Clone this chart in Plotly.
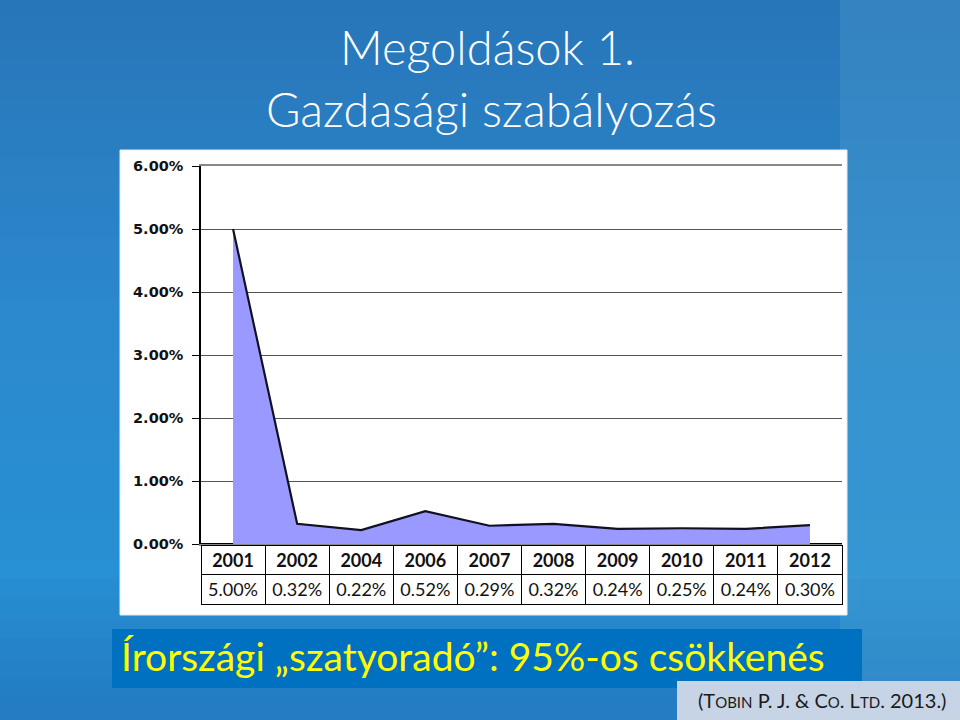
import plotly.graph_objects as go

years = ["2001", "2002", "2004", "2006", "2007", "2008", "2009", "2010", "2011", "2012"]
rates = [5.00, 0.32, 0.22, 0.52, 0.29, 0.32, 0.24, 0.25, 0.24, 0.30]
y_ticks = [0, 1, 2, 3, 4, 5, 6]
title_lines = ["Megoldások 1.", "Gazdasági szabályozás"]
banner_text = "Írországi „szatyoradó”: 95%-os csökkenés"

W, H = 960, 720
def px(x):
    return x / W
def py(y):
    return 1 - y / H

fig = go.Figure()

fig.add_trace(go.Scatter(
    x=years, y=rates, mode="lines", fill="tozeroy",
    fillcolor="#9999FF", line=dict(color="#111122", width=2.2),
    hoverinfo="skip", showlegend=False,
))

fig.add_trace(go.Table(
    domain=dict(x=[px(201), px(842)], y=[py(612), py(545)]),
    columnwidth=[1] * len(years),
    header=dict(values=years, height=29,
                fill_color="white", line=dict(color="black", width=1),
                align="center", font=dict(family="Lato", size=18, color="#111", weight="bold")),
    cells=dict(values=[[f"{v:.2f}%"] for v in rates], height=30,
               fill_color="white", line=dict(color="black", width=1),
               align="center", font=dict(family="Lato", size=18, color="#111")),
))

shapes = []
# background gradient strips
stops = [(0.0, (40, 118, 186)), (0.45, (44, 138, 205)), (0.8, (40, 144, 212)), (1.0, (36, 124, 194))]
n = 36
def col_at(t):
    for (t0, c0), (t1, c1) in zip(stops[:-1], stops[1:]):
        if t0 <= t <= t1:
            s = (t - t0) / (t1 - t0)
            return tuple(int(c0[k] + (c1[k] - c0[k]) * s) for k in range(3))
    return stops[-1][1]
for i in range(n):
    c = col_at(i / (n - 1))
    shapes.append(dict(type="rect", xref="paper", yref="paper", x0=0, x1=1,
                       y0=1 - (i + 1) / n, y1=min(1, 1 - i / n + 0.002),
                       fillcolor=f"rgb{c}", line=dict(width=0), layer="below"))
# lighter teal on right side
shapes.append(dict(type="rect", xref="paper", yref="paper", x0=px(840), x1=1, y0=0, y1=1,
                   fillcolor="rgba(90,170,210,0.25)", line=dict(width=0), layer="below"))
# white chart card
shapes.append(dict(type="rect", xref="paper", yref="paper",
                   x0=px(120), x1=px(847), y0=py(615), y1=py(150),
                   fillcolor="white", line=dict(color="#dfeefa", width=1), layer="below"))
# banner
shapes.append(dict(type="rect", xref="paper", yref="paper",
                   x0=px(112), x1=px(862), y0=py(688), y1=py(629),
                   fillcolor="#0070C0", line=dict(width=0), layer="below"))
# citation box
shapes.append(dict(type="rect", xref="paper", yref="paper",
                   x0=px(677), x1=1, y0=0, y1=py(681),
                   fillcolor="#C6D4E6", line=dict(width=0), layer="below"))

annotations = [
    dict(text=title_lines[0], x=px(487), y=py(47), xref="paper", yref="paper",
         showarrow=False, xanchor="center", yanchor="middle",
         font=dict(family="Lato", size=47, color="white", weight=300)),
    dict(text=title_lines[1], x=px(492), y=py(109), xref="paper", yref="paper",
         showarrow=False, xanchor="center", yanchor="middle",
         font=dict(family="Lato", size=47, color="white", weight=300)),
    dict(text=banner_text, x=px(119), y=py(656), xref="paper", yref="paper",
         showarrow=False, xanchor="left", yanchor="middle",
         font=dict(family="Lato", size=39, color="#FFFF00")),
    dict(text="(T<span style='font-size:15px'>OBIN</span> P. J. &amp; C<span style='font-size:15px'>O</span>. L<span style='font-size:15px'>TD</span>. 2013.)",
         x=px(948), y=py(700), xref="paper", yref="paper",
         showarrow=False, xanchor="right", yanchor="middle",
         font=dict(family="Lato", size=20, color="#1a1a1a")),
]

fig.update_layout(
    width=W, height=H,
    margin=dict(l=0, r=0, t=0, b=0, pad=0, autoexpand=False),
    paper_bgcolor="#2a74b8",
    plot_bgcolor="white",
    shapes=shapes,
    annotations=annotations,
    xaxis=dict(domain=[px(201), px(842)], type="category", range=[-0.5, len(years) - 0.5],
               showticklabels=False, showgrid=False, zeroline=False, automargin=False,
               showline=True, linecolor="#888", linewidth=2, mirror=True, fixedrange=True),
    yaxis=dict(domain=[py(544), py(166)], range=[0, 6], tickvals=y_ticks,
               ticktext=[f"<b>{v:.2f}%</b>" for v in y_ticks], automargin=False,
               tickfont=dict(family="DejaVu Sans", size=14.5, color="#111"),
               ticks="outside", ticklen=7, tickcolor="black", ticklabelstandoff=6,
               showgrid=True, gridcolor="#555", gridwidth=1,
               zeroline=True, zerolinecolor="black", zerolinewidth=1.5,
               showline=True, linecolor="black", linewidth=1.5, fixedrange=True),
)

post = "document.body.style.margin='0';"
fig.write_html("out.html", config={"displayModeBar": False}, post_script=post)
